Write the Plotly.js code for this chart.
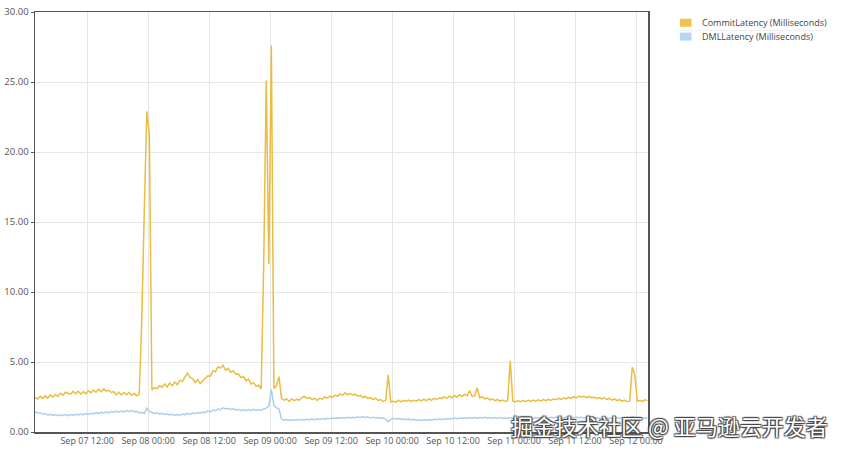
<!DOCTYPE html>
<html>
<head>
<meta charset="utf-8">
<script src="https://cdn.plot.ly/plotly-3.0.1.min.js"></script>
<style>html,body{margin:0;padding:0;background:#fff;}#chart{width:841px;height:452px;}</style>
</head>
<body>
<div id="chart"></div>
<script>
// Sampling: one reading every 30 minutes starting at this time
const startTime = '2024-09-07 01:45';
const stepMinutes = 30;

const seriesNames = ['CommitLatency (Milliseconds)', 'DMLLatency (Milliseconds)'];

const commitLatency = [
  2.48,2.36,2.55,2.40,2.58,2.42,2.64,2.50,2.68,2.54,
  2.76,2.62,2.84,2.74,2.70,2.90,2.72,2.92,2.70,2.88,
  2.74,2.94,2.80,3.00,2.84,3.06,2.88,3.08,2.92,2.98,
  2.82,2.88,2.66,2.84,2.64,2.82,2.66,2.84,2.62,2.76,
  2.58,2.70,7.90,15.8,22.9,21.2,3.00,3.18,3.10,3.30,
  3.20,3.44,3.22,3.50,3.30,3.58,3.38,3.70,3.60,3.94,
  4.20,3.90,3.82,3.54,3.74,3.46,3.64,3.78,4.02,3.98,
  4.38,4.30,4.66,4.56,4.76,4.40,4.54,4.26,4.38,4.12,
  4.16,3.88,3.96,3.66,3.78,3.42,3.54,3.26,3.34,3.08,
  12.1,25.1,12.0,27.6,3.10,3.30,3.95,2.40,2.28,2.36,
  2.20,2.36,2.24,2.34,2.28,2.46,2.54,2.40,2.48,2.32,
  2.40,2.26,2.40,2.34,2.50,2.42,2.56,2.48,2.62,2.56,
  2.72,2.62,2.80,2.66,2.74,2.64,2.70,2.56,2.62,2.46,
  2.54,2.40,2.46,2.32,2.40,2.26,2.32,2.18,2.26,4.08,
  2.14,2.20,2.14,2.28,2.16,2.26,2.20,2.28,2.18,2.26,
  2.20,2.32,2.22,2.34,2.24,2.38,2.26,2.40,2.32,2.44,
  2.38,2.52,2.40,2.56,2.44,2.60,2.50,2.66,2.54,2.70,
  2.58,2.95,2.54,2.60,3.14,2.44,2.52,2.36,2.44,2.30,
  2.36,2.24,2.32,2.20,2.28,2.18,2.24,5.08,2.22,2.14,
  2.22,2.16,2.24,2.18,2.26,2.18,2.28,2.20,2.30,2.22,
  2.32,2.24,2.34,2.26,2.36,2.30,2.40,2.32,2.44,2.36,
  2.48,2.40,2.52,2.44,2.56,2.48,2.56,2.46,2.54,2.44,
  2.50,2.40,2.46,2.36,2.44,2.32,2.40,2.28,2.36,2.24,
  2.32,2.20,2.28,2.16,2.22,4.62,4.10,2.20,2.26,2.18,
  2.30,2.24
];

const dmlLatency = [
  1.45,1.36,1.38,1.28,1.31,1.22,1.27,1.18,1.24,1.17,
  1.23,1.18,1.25,1.17,1.24,1.20,1.26,1.21,1.29,1.23,
  1.31,1.26,1.34,1.29,1.38,1.32,1.40,1.34,1.44,1.37,
  1.46,1.40,1.49,1.41,1.50,1.44,1.53,1.45,1.55,1.44,
  1.48,1.36,1.40,1.34,1.70,1.46,1.40,1.32,1.37,1.28,
  1.33,1.25,1.30,1.22,1.26,1.19,1.25,1.20,1.29,1.24,
  1.33,1.27,1.36,1.30,1.39,1.34,1.43,1.38,1.49,1.44,
  1.57,1.52,1.66,1.60,1.72,1.64,1.69,1.61,1.66,1.57,
  1.62,1.53,1.60,1.52,1.61,1.53,1.62,1.54,1.61,1.56,
  1.64,1.70,1.85,3.05,1.90,1.72,1.66,0.92,0.86,0.89,
  0.83,0.88,0.84,0.89,0.85,0.90,0.86,0.91,0.87,0.92,
  0.88,0.94,0.90,0.96,0.92,0.98,0.94,1.00,0.96,1.02,
  0.98,1.04,0.99,1.05,1.01,1.06,1.02,1.07,1.03,1.08,
  1.03,1.07,1.01,1.06,1.00,1.04,0.98,1.00,0.92,0.74,
  0.90,0.97,0.93,0.96,0.90,0.94,0.88,0.92,0.86,0.90,
  0.84,0.88,0.83,0.88,0.84,0.89,0.85,0.91,0.87,0.93,
  0.89,0.95,0.91,0.97,0.93,0.99,0.95,1.00,0.96,1.02,
  0.97,1.03,0.98,1.04,0.99,1.04,1.00,1.05,1.00,1.04,
  0.99,1.04,0.98,1.03,0.97,1.02,0.97,1.04,0.96,1.00,
  0.95,1.00,0.96,1.01,0.96,1.02,0.97,1.03,0.98,1.03,
  0.98,1.04,0.99,1.05,1.00,1.06,1.00,1.06,1.01,1.07,
  1.01,1.07,1.02,1.07,1.01,1.06,1.00,1.05,0.99,1.04,
  0.98,1.03,0.97,1.02,0.96,1.01,0.96,1.02,0.97,1.03,
  0.98,1.04,0.99,1.05,1.00,1.08,1.03,0.99,1.02,0.97,
  1.01,0.98
];

const xRange = ['2024-09-07 01:45', '2024-09-12 02:21'];
const yTickVals = [0, 5, 10, 15, 20, 25, 30];
const yTickText = ['0.00', '5.00', '10.00', '15.00', '20.00', '25.00', '30.00'];
const watermark = '掘金技术社区 @ 亚马逊云开发者';

function buildTimes(n) {
  const p = startTime.split(/[- :]/).map(Number);
  const t0 = Date.UTC(p[0], p[1] - 1, p[2], p[3], p[4]);
  const out = [];
  for (let i = 0; i < n; i++) {
    out.push(new Date(t0 + i * stepMinutes * 60000).toISOString().slice(0, 16).replace('T', ' '));
  }
  return out;
}

const colors = ['#ebbd3f', '#abd0ee'];
const swatch = ['#efc24a', '#b7d8f3'];

const traces = [
  { x: buildTimes(commitLatency.length), y: commitLatency, type: 'scatter', mode: 'lines',
    name: seriesNames[0], line: { color: colors[0], width: 1.5 }, showlegend: false },
  { x: buildTimes(dmlLatency.length), y: dmlLatency, type: 'scatter', mode: 'lines',
    name: seriesNames[1], line: { color: colors[1], width: 1.5 }, showlegend: false }
];

const layout = {
  width: 841, height: 452,
  margin: { l: 35, r: 193, t: 12, b: 20 },
  paper_bgcolor: '#ffffff', plot_bgcolor: '#ffffff',
  font: { family: 'Open Sans, Noto Sans, sans-serif', size: 9, color: '#555' },
  xaxis: {
    type: 'date', range: xRange, dtick: 43200000, tick0: '2024-09-07 00:00',
    tickformat: '%b %d %H:%M', tickangle: 0, showgrid: true, gridcolor: '#e6e6e6', gridwidth: 1,
    showline: true, mirror: true, linecolor: '#555', linewidth: 1.5,
    ticks: '', tickfont: { size: 9, color: '#555' }, zeroline: false, automargin: false
  },
  yaxis: {
    range: [0, 30], tickvals: yTickVals, ticktext: yTickText,
    showgrid: true, gridcolor: '#e6e6e6', gridwidth: 1,
    showline: true, mirror: true, linecolor: '#555', linewidth: 1.5,
    ticks: 'outside', ticklen: 3, tickcolor: '#555',
    tickfont: { size: 9.5, color: '#555' }, zeroline: false, automargin: false
  },
  shapes: [
    { type: 'rect', xref: 'paper', yref: 'paper', x0: 1.052, x1: 1.071, y0: 0.965, y1: 0.984,
      fillcolor: swatch[0], line: { width: 0 } },
    { type: 'rect', xref: 'paper', yref: 'paper', x0: 1.052, x1: 1.071, y0: 0.932, y1: 0.951,
      fillcolor: swatch[1], line: { width: 0 } },
    { type: 'line', xref: 'paper', yref: 'paper', x0: 1.05, x1: 1.29, y0: 0.956, y1: 0.956,
      line: { color: '#f0f0f0', width: 1 } }
  ],
  annotations: [
    { xref: 'paper', yref: 'paper', x: 1.085, y: 0.975, xanchor: 'left', yanchor: 'middle',
      text: seriesNames[0], showarrow: false, font: { size: 9, color: '#444' } },
    { xref: 'paper', yref: 'paper', x: 1.085, y: 0.942, xanchor: 'left', yanchor: 'middle',
      text: seriesNames[1], showarrow: false, font: { size: 9, color: '#444' } },
    { xref: 'paper', yref: 'paper', x: 1.297, y: 0.017, xanchor: 'right', yanchor: 'middle',
      text: watermark, showarrow: false,
      font: { family: 'Noto Sans CJK SC', size: 22, color: '#ffffff',
              shadow: '1px 1px 1px #444, -1px -1px 1px #444, 1px -1px 1px #444, -1px 1px 1px #444' } }
  ]
};

Plotly.newPlot('chart', traces, layout, { displayModeBar: false, staticPlot: true });
</script>
</body>
</html>
